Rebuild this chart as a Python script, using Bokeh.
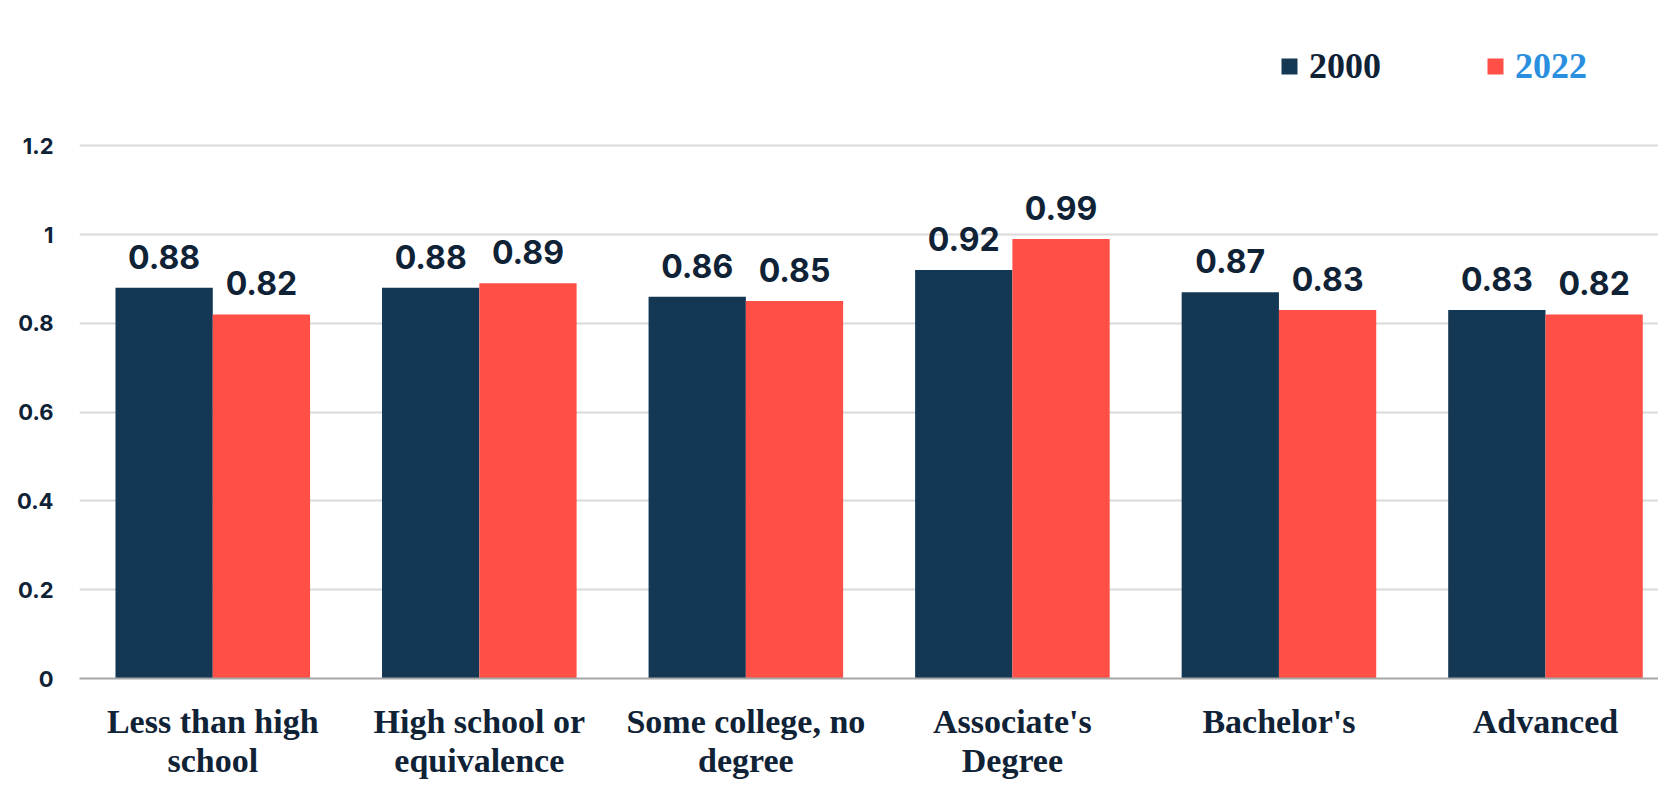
from bokeh.plotting import figure
from bokeh.models import (ColumnDataSource, Range1d, FixedTicker, Legend, LegendItem)
from bokeh.transform import dodge
from bokeh.core.properties import value
from bokeh.embed import file_html
from bokeh.resources import INLINE

categories = ["Less than high\nschool", "High school or\nequivalence", "Some college, no\ndegree",
              "Associate's\nDegree", "Bachelor's", "Advanced"]
v2000 = [0.88, 0.88, 0.86, 0.92, 0.87, 0.83]
v2022 = [0.82, 0.89, 0.85, 0.99, 0.83, 0.82]
y_ticks = [0, 0.2, 0.4, 0.6, 0.8, 1.0, 1.2]

NAVY = "#143754"
RED = "#ff4f46"
INK = "#0f2236"
SERIF = "Liberation Serif"

pos = [i + 0.5 for i in range(len(categories))]
src = ColumnDataSource(dict(
    x=pos, a=v2000, b=v2022,
    la=[f"{v:.2f}" for v in v2000], lb=[f"{v:.2f}" for v in v2022],
))

p = figure(width=1658, height=785, output_backend="svg", toolbar_location=None,
           x_range=Range1d(0, 5.924), y_range=Range1d(0, 1.5),
           min_border_left=79, min_border_right=0, min_border_top=12, min_border_bottom=107)
p.outline_line_color = None
p.background_fill_color = "white"

off = 0.1825
bw = 0.365
r1 = p.vbar(x=dodge("x", -off), top="a", width=bw, source=src, fill_color=NAVY, line_color=None)
r2 = p.vbar(x=dodge("x", off), top="b", width=bw, source=src, fill_color=RED, line_color=None)

for col, top, lab in ((-off, "a", "la"), (off, "b", "lb")):
    p.text(x=dodge("x", col), y=top, text=lab, source=src,
           text_align="center", text_baseline="alphabetic", y_offset=-31,
           text_font=value("Inter"), text_font_style="bold", text_font_size="32px",
           text_color=INK)

# axes
p.xaxis.ticker = FixedTicker(ticks=pos)
p.xaxis.major_label_overrides = {x: c for x, c in zip(pos, categories)}
p.xaxis.major_tick_line_color = None
p.xaxis.major_tick_out = 0
p.xaxis.minor_tick_line_color = None
p.xaxis.axis_line_color = "#a6a6a6"
p.xaxis.axis_line_width = 2
p.xaxis.major_label_standoff = 24
p.xaxis.major_label_text_font = SERIF
p.xaxis.major_label_text_font_style = "bold"
p.xaxis.major_label_text_font_size = "34px"
p.xaxis.major_label_text_color = INK
p.xaxis.major_label_text_line_height = 1.08

p.yaxis.ticker = FixedTicker(ticks=y_ticks)
p.yaxis.major_label_overrides = {0: "0", 1.0: "1", 0.2: "0.2", 0.4: "0.4", 0.6: "0.6", 0.8: "0.8", 1.2: "1.2"}
p.yaxis.axis_line_color = None
p.yaxis.major_tick_line_color = None
p.yaxis.major_tick_out = 0
p.yaxis.minor_tick_line_color = None
p.yaxis.major_label_standoff = 26
p.yaxis.major_label_text_font = "Inter"
p.yaxis.major_label_text_font_style = "bold"
p.yaxis.major_label_text_font_size = "22px"
p.yaxis.major_label_text_color = INK

p.xgrid.grid_line_color = None
p.ygrid.grid_line_color = "#d9d9d9"
p.ygrid.grid_line_width = 2

# legend: one entry per year so each label keeps its own colour
for r, label, color, x in ((r1, "2000", INK, 1200), (r2, "2022", "#2b8fe0", 1406)):
    lg = Legend(items=[LegendItem(label=label, renderers=[r])], location=(x, 591),
                glyph_width=20, glyph_height=20, label_standoff=10, padding=0, margin=0,
                spacing=0, border_line_color=None, background_fill_alpha=0,
                label_text_font=SERIF, label_text_font_style="bold",
                label_text_font_size="36px", label_text_color=color)
    p.add_layout(lg)

open("out.html", "w").write(file_html(p, INLINE))
